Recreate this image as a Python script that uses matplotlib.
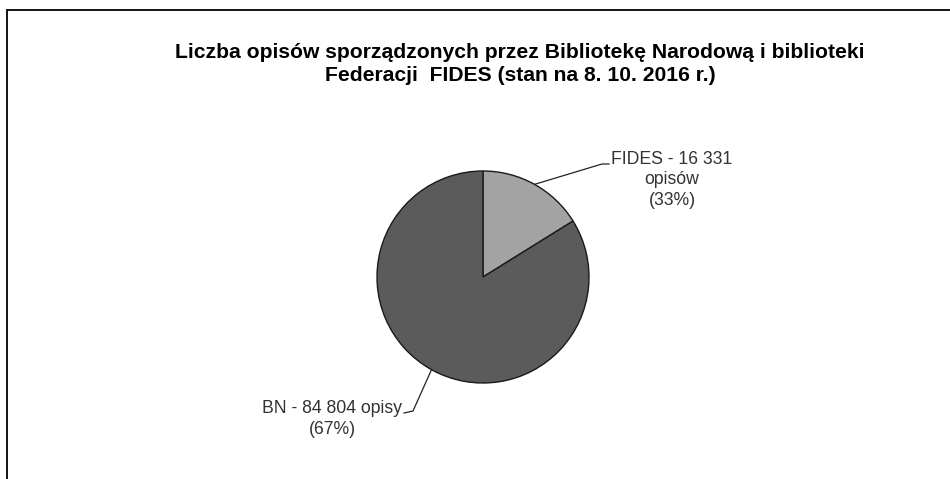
import numpy as np
import matplotlib
matplotlib.use("Agg")
import matplotlib.pyplot as plt
from matplotlib.patches import Rectangle

plt.rcParams['font.family'] = ['Liberation Sans', 'DejaVu Sans']

categories = ["FIDES", "BN"]
values = [16331, 84804]
labels = ["FIDES - 16 331\nopisów\n(33%)", "BN - 84 804 opisy\n(67%)"]
colors = ["#a3a3a3", "#5b5b5b"]
title = "Liczba opisów sporządzonych przez Bibliotekę Narodową i biblioteki\nFederacji  FIDES (stan na 8. 10. 2016 r.)"

W, H = 950, 479
fig = plt.figure(figsize=(W / 100, H / 100), dpi=100)
fig.patch.set_facecolor("white")

# border (open on right and bottom)
fig.add_artist(Rectangle((7 / W, -0.2), 2, 469 / H + 0.2, transform=fig.transFigure,
                         fill=False, edgecolor="black", linewidth=1.3))

cx, cy, r = 483, 277, 106
ax = fig.add_axes([(cx - r) / W, (H - cy - r) / H, 2 * r / W, 2 * r / H])

wedges, _ = ax.pie(values, colors=colors, startangle=90, counterclock=False, radius=1,
                   wedgeprops=dict(edgecolor="#1a1a1a", linewidth=1.0))
ax.set_xlim(-1, 1)
ax.set_ylim(-1, 1)
ax.set_aspect("equal")
ax.axis("off")

def px2d(px, py):
    return (px - cx) / r, (cy - py) / r

# FIDES label
w = wedges[0]
ang = np.deg2rad((w.theta1 + w.theta2) / 2)
p0 = (np.cos(ang), np.sin(ang))
p1 = px2d(602, 164)
p2 = px2d(609, 164)
ax.plot([p0[0], p1[0], p2[0]], [p0[1], p1[1], p2[1]], color="#222222", lw=0.9, clip_on=False)
tx, ty = px2d(672, 180)
ax.text(tx, ty, labels[0], ha="center", va="center", fontsize=12.7, color="#333333",
        linespacing=1.3, clip_on=False)

# BN label
w = wedges[1]
ang = np.deg2rad((w.theta1 + w.theta2) / 2)
p0 = (np.cos(ang), np.sin(ang))
p1 = px2d(413, 411)
p2 = px2d(404, 413)
ax.plot([p0[0], p1[0], p2[0]], [p0[1], p1[1], p2[1]], color="#222222", lw=0.9, clip_on=False)
tx, ty = px2d(332, 419)
ax.text(tx, ty, labels[1], ha="center", va="center", fontsize=12.7, color="#333333",
        linespacing=1.3, clip_on=False)

fig.text(520 / W, 1 - 64 / H, title, ha="center", va="center", fontsize=15.2,
         fontweight="bold", color="black", linespacing=1.25)

fig.savefig("out.png", dpi=100, facecolor="white")
